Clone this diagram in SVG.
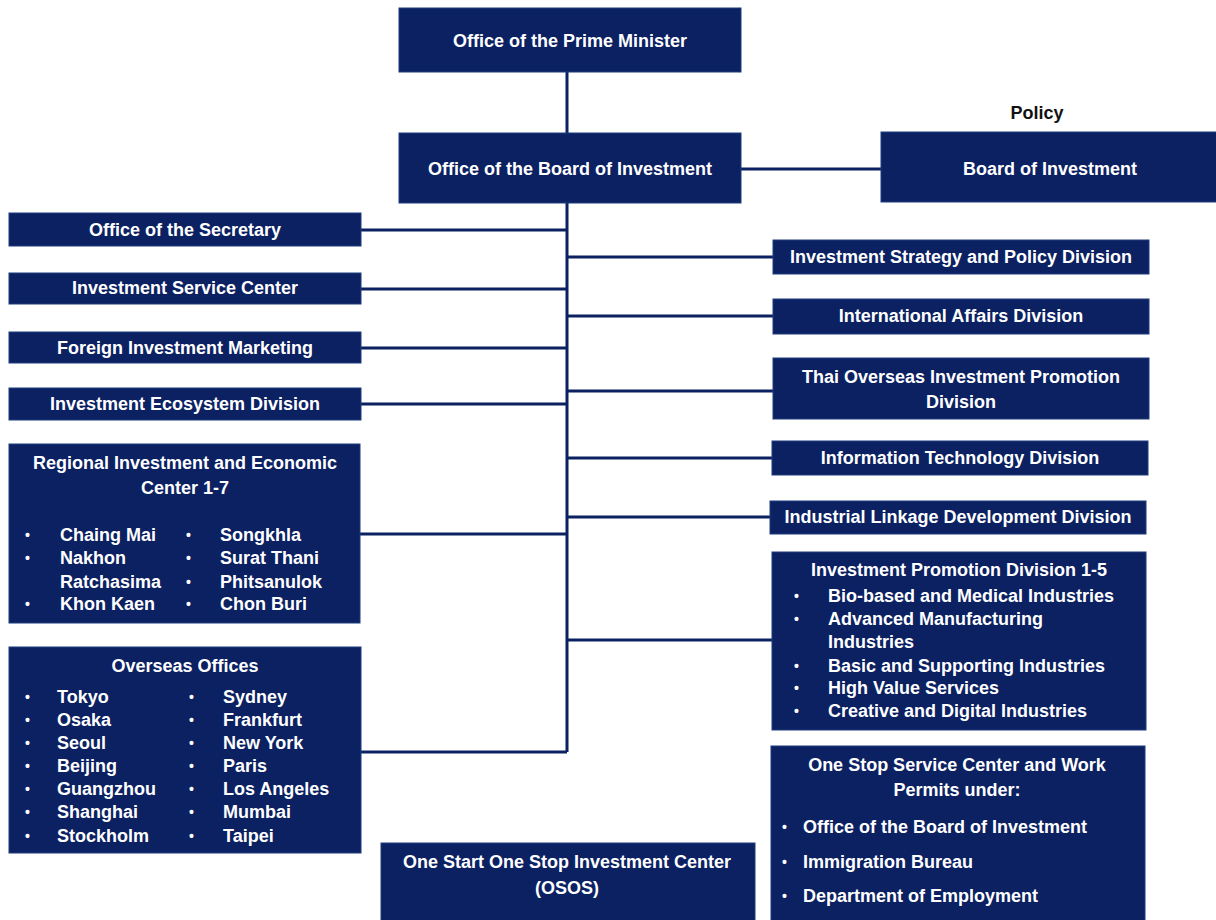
<svg xmlns="http://www.w3.org/2000/svg" width="1216" height="920" viewBox="0 0 1216 920">
<style>
.box{fill:#0b2162;stroke:#1e3c7e;stroke-width:1}
.t{font-family:"Liberation Sans",Arial,sans-serif;font-weight:bold;font-size:18px;fill:#ffffff}
.b{font-family:"Liberation Sans",Arial,sans-serif;font-weight:bold;font-size:14px;fill:#ffffff}
.c{text-anchor:middle}
.pol{font-family:"Liberation Sans",Arial,sans-serif;font-weight:bold;font-size:18px;fill:#111111;text-anchor:middle}
.ln{stroke:#0b2162;stroke-width:3;fill:none}
</style>
<rect width="1216" height="920" fill="#ffffff"/>
<g id="connectors">
<path class="ln" d="M567,72V133"/>
<path class="ln" d="M741,169H881"/>
<path class="ln" d="M567,203V752"/>
<path class="ln" d="M361,230H567M361,289H567M361,348H567M361,404H567M360,534H567M361,752H567"/>
<path class="ln" d="M567,257H773M567,316H773M567,391H773M567,458H772M567,517H770M567,640H772"/>
</g>
<g id="pm"><rect class="box" x="399" y="8" width="342" height="64"/><text class="t c" x="570" y="47">Office of the Prime Minister</text></g>
<g id="oboi"><rect class="box" x="399" y="133" width="342" height="70"/><text class="t c" x="570" y="175">Office of the Board of Investment</text></g>
<g id="policy"><text class="pol" x="1037" y="119">Policy</text></g>
<g id="boi"><rect class="box" x="881" y="132" width="340" height="70"/><text class="t c" x="1050" y="175">Board of Investment</text></g>
<g id="sec"><rect class="box" x="9" y="213" width="352" height="33"/><text class="t c" x="185" y="236">Office of the Secretary</text></g>
<g id="isc"><rect class="box" x="9" y="273" width="352" height="31"/><text class="t c" x="185" y="294">Investment Service Center</text></g>
<g id="fim"><rect class="box" x="9" y="332" width="352" height="31"/><text class="t c" x="185" y="354">Foreign Investment Marketing</text></g>
<g id="ied"><rect class="box" x="9" y="388" width="352" height="32"/><text class="t c" x="185" y="410">Investment Ecosystem Division</text></g>
<g id="ric"><rect class="box" x="9" y="444" width="351" height="179"/>
<text class="t c" x="185" y="469">Regional Investment and Economic</text>
<text class="t c" x="185" y="494">Center 1-7</text>
<text class="b" x="25" y="540">•</text><text class="t" x="60" y="541">Chaing Mai</text>
<text class="b" x="25" y="563">•</text><text class="t" x="60" y="564">Nakhon</text>
<text class="t" x="60" y="588">Ratchasima</text>
<text class="b" x="25" y="609">•</text><text class="t" x="60" y="610">Khon Kaen</text>
<text class="b" x="186" y="540">•</text><text class="t" x="220" y="541">Songkhla</text>
<text class="b" x="186" y="563">•</text><text class="t" x="220" y="564">Surat Thani</text>
<text class="b" x="186" y="587">•</text><text class="t" x="220" y="588">Phitsanulok</text>
<text class="b" x="186" y="609">•</text><text class="t" x="220" y="610">Chon Buri</text>
</g>
<g id="ovs"><rect class="box" x="9" y="647" width="352" height="206"/>
<text class="t c" x="185" y="672">Overseas Offices</text>
<text class="b" x="25" y="702">•</text><text class="t" x="57" y="703">Tokyo</text>
<text class="b" x="25" y="725">•</text><text class="t" x="57" y="726">Osaka</text>
<text class="b" x="25" y="748">•</text><text class="t" x="57" y="749">Seoul</text>
<text class="b" x="25" y="771">•</text><text class="t" x="57" y="772">Beijing</text>
<text class="b" x="25" y="794">•</text><text class="t" x="57" y="795">Guangzhou</text>
<text class="b" x="25" y="817">•</text><text class="t" x="57" y="818">Shanghai</text>
<text class="b" x="25" y="841">•</text><text class="t" x="57" y="842">Stockholm</text>
<text class="b" x="189" y="702">•</text><text class="t" x="223" y="703">Sydney</text>
<text class="b" x="189" y="725">•</text><text class="t" x="223" y="726">Frankfurt</text>
<text class="b" x="189" y="748">•</text><text class="t" x="223" y="749">New York</text>
<text class="b" x="189" y="771">•</text><text class="t" x="223" y="772">Paris</text>
<text class="b" x="189" y="794">•</text><text class="t" x="223" y="795">Los Angeles</text>
<text class="b" x="189" y="817">•</text><text class="t" x="223" y="818">Mumbai</text>
<text class="b" x="189" y="841">•</text><text class="t" x="223" y="842">Taipei</text>
</g>
<g id="ispd"><rect class="box" x="773" y="240" width="376" height="34"/><text class="t c" x="961" y="263">Investment Strategy and Policy Division</text></g>
<g id="iad"><rect class="box" x="773" y="299" width="376" height="35"/><text class="t c" x="961" y="322">International Affairs Division</text></g>
<g id="toipd"><rect class="box" x="773" y="358" width="376" height="61"/><text class="t c" x="961" y="383">Thai Overseas Investment Promotion</text><text class="t c" x="961" y="408">Division</text></g>
<g id="itd"><rect class="box" x="772" y="441" width="376" height="34"/><text class="t c" x="960" y="464">Information Technology Division</text></g>
<g id="ildd"><rect class="box" x="770" y="501" width="376" height="33"/><text class="t c" x="958" y="523">Industrial Linkage Development Division</text></g>
<g id="ipd"><rect class="box" x="772" y="552" width="374" height="178"/>
<text class="t c" x="959" y="576">Investment Promotion Division 1-5</text>
<text class="b" x="794" y="601">•</text><text class="t" x="828" y="602">Bio-based and Medical Industries</text>
<text class="b" x="794" y="624">•</text><text class="t" x="828" y="625">Advanced Manufacturing</text>
<text class="t" x="828" y="648">Industries</text>
<text class="b" x="794" y="671">•</text><text class="t" x="828" y="672">Basic and Supporting Industries</text>
<text class="b" x="794" y="693">•</text><text class="t" x="828" y="694">High Value Services</text>
<text class="b" x="794" y="716">•</text><text class="t" x="828" y="717">Creative and Digital Industries</text>
</g>
<g id="osos"><rect class="box" x="381" y="843" width="374" height="90"/><text class="t c" x="567" y="868">One Start One Stop Investment Center</text><text class="t c" x="567" y="894">(OSOS)</text></g>
<g id="ossc"><rect class="box" x="771" y="746" width="374" height="190"/>
<text class="t c" x="957" y="771">One Stop Service Center and Work</text>
<text class="t c" x="957" y="796">Permits under:</text>
<text class="b" x="782" y="832">•</text><text class="t" x="803" y="833">Office of the Board of Investment</text>
<text class="b" x="782" y="867">•</text><text class="t" x="803" y="868">Immigration Bureau</text>
<text class="b" x="782" y="901">•</text><text class="t" x="803" y="902">Department of Employment</text>
</g>
</svg>
